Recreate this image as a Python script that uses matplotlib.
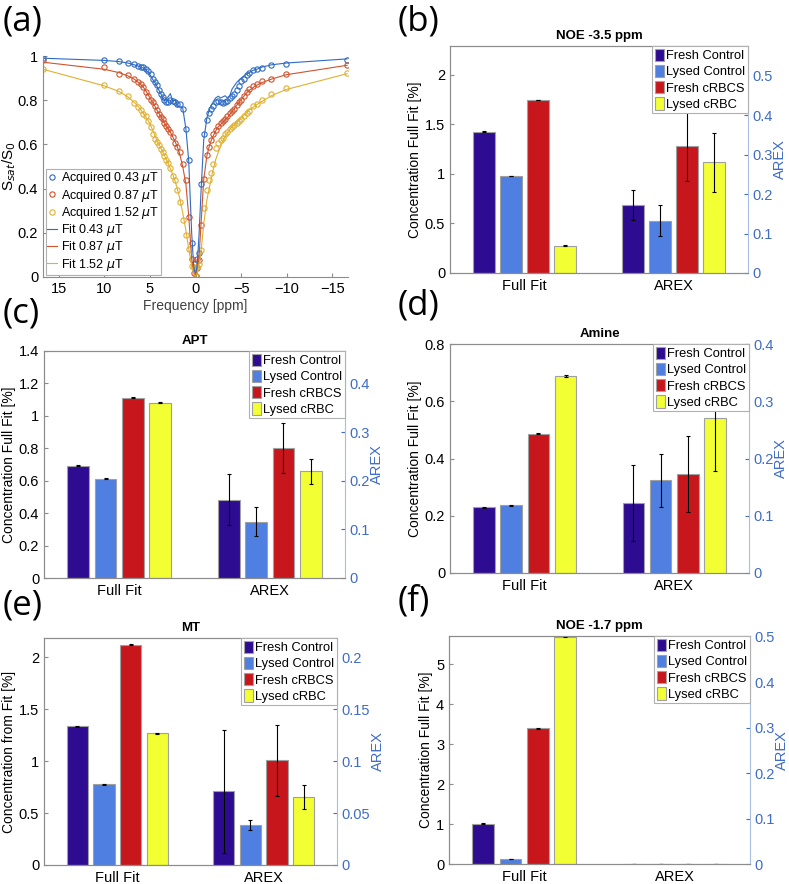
import numpy as np
import matplotlib
matplotlib.use('Agg')
from matplotlib import pyplot as plt

plt.rcParams['font.family'] = ['Liberation Sans', 'DejaVu Sans']
plt.rcParams['mathtext.fontset'] = 'dejavusans'

W, H = 789, 884

# ---- panel (a): Z-spectra ----
offsets = [16.7, 10.0, 8.4, 7.4, 6.7, 6.3, 6.0, 5.7, 5.4, 5.15, 4.9, 4.7, 4.45, 4.25, 4.0,
           3.8, 3.6, 3.4, 3.2, 3.0, 2.75, 2.5, 2.2, 2.0, 1.75, 1.4, 1.05, 0.75, 0.42, 0.2, 0.0,
           -0.2, -0.4, -0.62, -0.9, -1.25, -1.5, -1.7, -1.9, -2.2, -2.5, -2.75, -3.0, -3.25,
           -3.5, -3.75, -4.0, -4.25, -4.5, -4.75, -5.0, -5.3, -5.6, -5.9, -6.3, -6.7, -7.3,
           -8.3, -9.9, -16.6]

acq_043 = [0.993, 0.980, 0.976, 0.970, 0.962, 0.955, 0.952, 0.948, 0.943, 0.932, 0.918, 0.898,
           0.882, 0.867, 0.848, 0.830, 0.815, 0.800, 0.792, 0.790, 0.803, 0.798, 0.792, 0.785,
           0.781, 0.760, 0.668, 0.531, 0.154, 0.060, 0.005,
           0.080, 0.110, 0.423, 0.646, 0.709, 0.742, 0.762, 0.775, 0.790, 0.795, 0.790, 0.787,
           0.790, 0.798, 0.810, 0.820, 0.830, 0.845, 0.865, 0.885, 0.898, 0.912, 0.925, 0.938,
           0.943, 0.947, 0.961, 0.965, 0.984]
acq_087 = [0.980, 0.950, 0.920, 0.913, 0.895, 0.882, 0.872, 0.860, 0.836, 0.817, 0.802, 0.790,
           0.772, 0.754, 0.737, 0.725, 0.713, 0.697, 0.681, 0.670, 0.655, 0.635, 0.608, 0.590,
           0.566, 0.513, 0.437, 0.271, 0.083, 0.020, 0.003,
           0.040, 0.079, 0.234, 0.445, 0.551, 0.588, 0.618, 0.646, 0.665, 0.685, 0.695, 0.706,
           0.717, 0.727, 0.740, 0.750, 0.762, 0.778, 0.790, 0.803, 0.820, 0.837, 0.852, 0.864,
           0.875, 0.885, 0.898, 0.917, 0.958]
acq_152 = [0.943, 0.867, 0.842, 0.819, 0.787, 0.770, 0.755, 0.736, 0.727, 0.706, 0.679, 0.649,
           0.626, 0.611, 0.596, 0.581, 0.566, 0.546, 0.530, 0.515, 0.495, 0.456, 0.437, 0.392,
           0.339, 0.260, 0.190, 0.128, 0.050, 0.045, 0.003,
           0.045, 0.060, 0.121, 0.310, 0.395, 0.440, 0.470, 0.513, 0.585, 0.605, 0.620, 0.631,
           0.645, 0.657, 0.668, 0.677, 0.686, 0.697, 0.707, 0.716, 0.730, 0.741, 0.752, 0.772,
           0.785, 0.800, 0.830, 0.855, 0.925]

fit_043 = [0.990, 0.980, 0.975, 0.968, 0.960, 0.955, 0.950, 0.945, 0.935, 0.925, 0.910, 0.895,
           0.880, 0.865, 0.845, 0.830, 0.810, 0.800, 0.805, 0.815, 0.830, 0.795, 0.800, 0.770,
           0.770, 0.765, 0.670, 0.530, 0.200, 0.050, 0.005,
           0.060, 0.200, 0.400, 0.620, 0.720, 0.755, 0.775, 0.790, 0.810, 0.818, 0.810, 0.815,
           0.820, 0.810, 0.820, 0.850, 0.865, 0.880, 0.890, 0.900, 0.910, 0.918, 0.925, 0.935,
           0.940, 0.950, 0.960, 0.968, 0.987]
fit_087 = [0.972, 0.940, 0.925, 0.910, 0.895, 0.882, 0.872, 0.858, 0.840, 0.822, 0.805, 0.790,
           0.773, 0.757, 0.740, 0.726, 0.712, 0.698, 0.685, 0.672, 0.655, 0.635, 0.610, 0.590,
           0.560, 0.500, 0.420, 0.280, 0.080, 0.020, 0.003,
           0.030, 0.100, 0.250, 0.440, 0.550, 0.590, 0.615, 0.635, 0.660, 0.680, 0.690, 0.700,
           0.710, 0.720, 0.735, 0.748, 0.762, 0.776, 0.790, 0.803, 0.818, 0.833, 0.845, 0.857,
           0.868, 0.880, 0.895, 0.915, 0.958]
fit_152 = [0.940, 0.865, 0.840, 0.815, 0.790, 0.773, 0.757, 0.740, 0.722, 0.705, 0.685, 0.665,
           0.640, 0.620, 0.600, 0.585, 0.568, 0.550, 0.533, 0.515, 0.490, 0.465, 0.430, 0.400,
           0.360, 0.290, 0.210, 0.130, 0.050, 0.015, 0.003,
           0.020, 0.060, 0.120, 0.240, 0.350, 0.400, 0.440, 0.480, 0.530, 0.565, 0.590, 0.615,
           0.635, 0.652, 0.666, 0.680, 0.690, 0.700, 0.710, 0.720, 0.732, 0.745, 0.756, 0.768,
           0.780, 0.795, 0.820, 0.848, 0.920]

# ---- bar panels ----
groups = ['Full Fit', 'AREX']
samples = ['Fresh Control', 'Lysed Control', 'Fresh cRBCS', 'Lysed cRBC']
bar_colors = ['#2e0c91', '#4f7fe0', '#c8171c', '#f2ff33']

noe35_full = [1.425, 0.978, 1.745, 0.275]
noe35_full_err = [0.004, 0.004, 0.004, 0.004]
noe35_arex = [0.173, 0.133, 0.321, 0.281]
noe35_arex_err = [0.038, 0.039, 0.088, 0.075]

apt_full = [0.692, 0.612, 1.113, 1.080]
apt_full_err = [0.003, 0.003, 0.003, 0.003]
apt_arex = [0.161, 0.116, 0.267, 0.219]
apt_arex_err = [0.053, 0.029, 0.052, 0.026]

amine_full = [0.230, 0.237, 0.487, 0.688]
amine_full_err = [0.002, 0.002, 0.002, 0.002]
amine_arex = [0.122, 0.162, 0.173, 0.270]
amine_arex_err = [0.066, 0.046, 0.066, 0.092]

mt_full = [1.337, 0.778, 2.120, 1.270]
mt_full_err = [0.004, 0.004, 0.004, 0.004]
mt_arex = [0.071, 0.0385, 0.1008, 0.0655]
mt_arex_err = [0.059, 0.005, 0.034, 0.012]

noe17_full = [1.007, 0.125, 3.394, 5.680]
noe17_full_err = [0.01, 0.01, 0.01, 0.01]
noe17_arex = [0.0, 0.0, 0.0, 0.0]
noe17_arex_err = [0.0, 0.0, 0.0, 0.0]

right_col = '#3f6cc6'
spine_gray = '#8c8c8c'


def px(l, r, t, b):
    return [l / W, 1 - b / H, (r - l) / W, (b - t) / H]


fig = plt.figure(figsize=(W / 100, H / 100), dpi=100)

# panel (a)
ax = fig.add_axes(px(43, 348, 56, 277))
cols = ['#2f6bc4', '#d0532c', '#e0b030']
ax.plot(offsets, acq_043, 'o', mfc='none', mec=cols[0], ms=3.8, mew=0.8, label='Acquired 0.43 $\\mu$T')
ax.plot(offsets, acq_087, 'o', mfc='none', mec=cols[1], ms=3.8, mew=0.8, label='Acquired 0.87 $\\mu$T')
ax.plot(offsets, acq_152, 'o', mfc='none', mec=cols[2], ms=3.8, mew=0.8, label='Acquired 1.52 $\\mu$T')
ax.plot(offsets, fit_043, '-', color=cols[0], lw=0.8, label='Fit 0.43 $\\mu$T')
ax.plot(offsets, fit_087, '-', color=cols[1], lw=0.8, label='Fit 0.87 $\\mu$T')
ax.plot(offsets, fit_152, '-', color=cols[2], lw=0.8, label='Fit 1.52 $\\mu$T')
ax.set_xlim(16.7, -16.7)
ax.set_ylim(0, 1)
ax.set_xticks([15, 10, 5, 0, -5, -10, -15])
ax.set_yticks([0, 0.2, 0.4, 0.6, 0.8, 1])
ax.set_yticklabels(['0', '0.2', '0.4', '0.6', '0.8', '1'])
ax.spines['top'].set_visible(False)
ax.spines['right'].set_visible(False)
for s in ['left', 'bottom']:
    ax.spines[s].set_color(spine_gray)
ax.tick_params(direction='in', length=3, color=spine_gray, labelsize=10.5)
ax.set_xlabel('Frequency [ppm]', fontsize=10, color='#404040', labelpad=2)
ax.set_ylabel('S$_{sat}$/S$_0$', fontsize=11, labelpad=0)
leg = ax.legend(loc='lower left', fontsize=9, frameon=True, fancybox=False,
                edgecolor='#b0b0b0', framealpha=1, borderpad=0.15, labelspacing=0.1,
                handlelength=0.8, handletextpad=0.3, borderaxespad=0.2)
leg.get_frame().set_linewidth(0.8)


def bar_panel(rect, title, full, full_err, arex, arex_err, ylim_left, ylim_right,
              yt_left, yt_right, ylabel):
    axl = fig.add_axes(rect)
    axr = axl.twinx()
    nb = len(samples)
    pitch = 0.182
    width = 0.145
    handles = []
    for i in range(nb):
        off = (i - (nb - 1) / 2) * pitch
        h = axl.bar(1 + off, full[i], width, color=bar_colors[i], edgecolor='#a0a0a0',
                    linewidth=0.8, label=samples[i])
        axl.errorbar(1 + off, full[i], yerr=full_err[i], fmt='none', ecolor='black',
                     elinewidth=0.8, capsize=1.5, capthick=0.8)
        axr.bar(2 + off, arex[i], width, color=bar_colors[i], edgecolor='#a0a0a0', linewidth=0.8)
        axr.errorbar(2 + off, arex[i], yerr=arex_err[i], fmt='none', ecolor='black',
                     elinewidth=0.8, capsize=1.5, capthick=0.8)
        handles.append(h)
    axl.set_xlim(0.5, 2.5)
    axl.set_xticks([1, 2])
    axl.set_xticklabels(groups)
    axl.set_ylim(*ylim_left)
    axr.set_ylim(*ylim_right)
    axl.set_yticks(yt_left)
    axl.set_yticklabels(['%g' % v for v in yt_left])
    axr.set_yticks(yt_right)
    axr.set_yticklabels(['%g' % v for v in yt_right])
    axl.tick_params(direction='in', length=3, color=spine_gray, labelsize=10.5)
    axl.tick_params(axis='x', length=0, pad=4)
    axr.tick_params(direction='in', length=3, color=right_col, labelcolor=right_col,
                    labelsize=10.5)
    for s in ['left', 'bottom', 'top']:
        axl.spines[s].set_color(spine_gray)
        axr.spines[s].set_color(spine_gray)
    axr.spines['right'].set_color('#a8bde6')
    axl.spines['right'].set_visible(False)
    axl.set_ylabel(ylabel, fontsize=10, labelpad=2)
    axr.set_ylabel('AREX', fontsize=10.5, color=right_col, labelpad=0)
    axl.set_title(title, fontsize=9.5, fontweight='bold', pad=5)
    lg = axr.legend(handles, samples, loc='upper right', fontsize=9.3, frameon=True,
                    fancybox=False, edgecolor='#b0b0b0', framealpha=1, borderpad=0.2,
                    labelspacing=0.2, handlelength=0.75, handleheight=1.1,
                    handletextpad=0.15, borderaxespad=0.0)
    lg.get_frame().set_linewidth(0.8)
    lg.set_zorder(10)
    return axl, axr


bar_panel(px(450, 748, 46, 273), 'NOE -3.5 ppm', noe35_full, noe35_full_err, noe35_arex,
          noe35_arex_err, (0, 2.29), (0, 0.576), [0, 0.5, 1, 1.5, 2],
          [0, 0.1, 0.2, 0.3, 0.4, 0.5], 'Concentration Full Fit [%]')
bar_panel(px(44, 345, 351, 578), 'APT', apt_full, apt_full_err, apt_arex, apt_arex_err,
          (0, 1.4), (0, 1.4 / 3), [0, 0.2, 0.4, 0.6, 0.8, 1, 1.2, 1.4],
          [0, 0.1, 0.2, 0.3, 0.4], 'Concentration Full Fit [%]')
bar_panel(px(450, 749, 344, 573), 'Amine', amine_full, amine_full_err, amine_arex,
          amine_arex_err, (0, 0.8), (0, 0.4), [0, 0.2, 0.4, 0.6, 0.8],
          [0, 0.1, 0.2, 0.3, 0.4], 'Concentration Full Fit [%]')
bar_panel(px(44, 337, 638, 865), 'MT', mt_full, mt_full_err, mt_arex, mt_arex_err,
          (0, 2.186), (0, 0.2186), [0, 0.5, 1, 1.5, 2],
          [0, 0.05, 0.1, 0.15, 0.2], 'Concentration from Fit [%]')
bar_panel(px(449, 750, 636, 864), 'NOE -1.7 ppm', noe17_full, noe17_full_err, noe17_arex,
          noe17_arex_err, (0, 5.7), (0, 0.502), [0, 1, 2, 3, 4, 5],
          [0, 0.1, 0.2, 0.3, 0.4, 0.5], 'Concentration Full Fit [%]')

# panel letters
for lab, x, y in [('(a)', 3, 22), ('(b)', 398, 21), ('(c)', 3, 313),
                  ('(d)', 398, 306), ('(e)', 3, 606), ('(f)', 398, 602)]:
    fig.text(x / W, 1 - y / H, lab, fontsize=25, family='Open Sans', va='center', ha='left')

fig.savefig('out.png', dpi=100)
